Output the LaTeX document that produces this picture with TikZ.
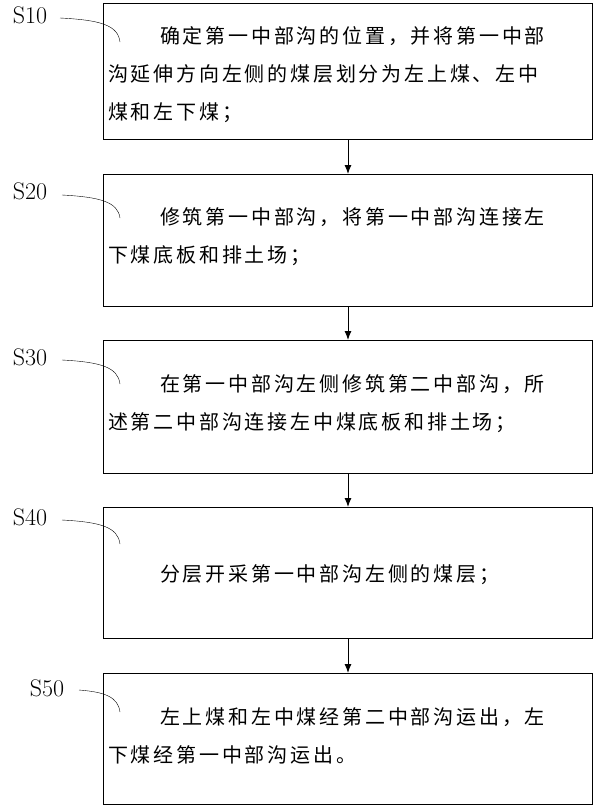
\documentclass[tikz,border=0pt]{standalone}
\usepackage{fontspec}
\usetikzlibrary{arrows.meta}
\newfontfamily\cjk[LetterSpace=14]{Noto Sans CJK SC}
\begin{document}
\begin{tikzpicture}[x=1pt,y=-1pt,
 box/.style={draw,line width=1pt},
 txt/.style={anchor=north west,inner sep=0pt,align=left,font=\cjk\fontsize{20}{38}\selectfont},
 lab/.style={font=\fontsize{24}{28}\selectfont,inner sep=0pt},
 arr/.style={-{Latex[length=9pt,width=7pt]},line width=1pt}]
\useasboundingbox (0,0) rectangle (600,807);
\draw[box] (103,3) rectangle (592,139) coordinate (b1);
\draw[box] (103,174) rectangle (592,306);
\draw[box] (103,340) rectangle (592,473);
\draw[box] (103,507) rectangle (592,638);
\draw[box] (103,673) rectangle (592,804);
\coordinate (t1) at (348,139); \coordinate (h2) at (348,174);
\coordinate (t2) at (348,306); \coordinate (h3) at (348,340);
\coordinate (t3) at (348,473); \coordinate (h4) at (348,507);
\coordinate (t4) at (348,638); \coordinate (h5) at (348,673);
\draw[arr] (t1)--(h2); \draw[arr] (t2)--(h3); \draw[arr] (t3)--(h4); \draw[arr] (t4)--(h5);
\node[txt] (x1) at (108,26) {\hspace*{52pt}确定第一中部沟的位置，并将第一中部\\沟延伸方向左侧的煤层划分为左上煤、左中\\煤和左下煤；};
\node[txt] (x2) at (108,207) {\hspace*{52pt}修筑第一中部沟，将第一中部沟连接左\\下煤底板和排土场；};
\node[txt] (x3) at (108,374) {\hspace*{52pt}在第一中部沟左侧修筑第二中部沟，所\\述第二中部沟连接左中煤底板和排土场；};
\node[txt] (x4) at (160,564) {分层开采第一中部沟左侧的煤层；};
\node[txt] (x5) at (108,707) {\hspace*{52pt}左上煤和左中煤经第二中部沟运出，左\\下煤经第一中部沟运出。};
\node[lab] (s1) at (30,15) {S10};
\node[lab] (s2) at (30,191) {S20};
\node[lab] (s3) at (30,357) {S30};
\node[lab] (s4) at (30,517) {S40};
\node[lab] (s5) at (47,688) {S50};
\draw (60,18) .. controls (100,20) and (118,25) .. (120,42);
\draw (62,195) .. controls (100,197) and (118,202) .. (120,218);
\draw (62,360) .. controls (100,362) and (118,367) .. (120,384);
\draw (62,520) .. controls (100,522) and (118,527) .. (120,544);
\draw (79,690) .. controls (105,692) and (118,697) .. (120,712);
\end{tikzpicture}
\end{document}
